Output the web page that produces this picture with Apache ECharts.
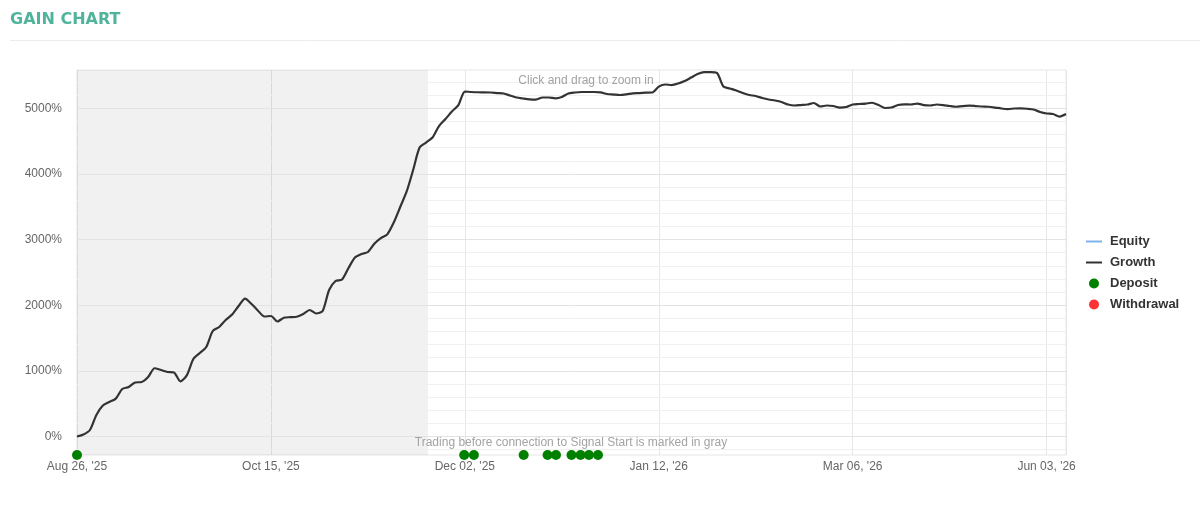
<!DOCTYPE html>
<html><head><meta charset="utf-8">
<script src="https://cdn.jsdelivr.net/npm/echarts@6/dist/echarts.min.js"></script>
<style>html,body{margin:0;padding:0;background:#fff}#c{width:1200px;height:507px}</style>
</head><body><div id="c"></div>
<script>
// ---- data ----
const xTickLabels = ["Aug 26, '25", "Oct 15, '25", "Dec 02, '25", "Jan 12, '26", "Mar 06, '26", "Jun 03, '26"];
const xTickStep = 30;          // data points between two date labels
const xLastIndex = 153;
const signalStartIndex = 54.3; // end of the gray (pre-connection) zone
const yLabelValues = [0, 1000, 2000, 3000, 4000, 5000];
const yGridValues = [-200, 0, 200, 400, 600, 800, 1000, 1200, 1400, 1600, 1800, 2000, 2200, 2400, 2600, 2800, 3000, 3200, 3400, 3600, 3800, 4000, 4200, 4400, 4600, 4800, 5000, 5200, 5400];
const yMin = -282;
const yMax = 5584;

const growthValues = [
  0, 30, 99, 328, 472, 526, 577, 724, 754, 823,
  830, 906, 1040, 1013, 983, 975, 840, 935, 1181, 1272,
  1364, 1607, 1668, 1775, 1857, 1988, 2102, 2019, 1917, 1828,
  1836, 1752, 1810, 1818, 1825, 1866, 1927, 1874, 1912, 2232,
  2369, 2392, 2567, 2727, 2780, 2811, 2937, 3024, 3080, 3260,
  3496, 3733, 4060, 4403, 4479, 4555, 4730, 4837, 4951, 5050,
  5256, 5249, 5245, 5244, 5241, 5233, 5226, 5195, 5165, 5150,
  5137, 5134, 5165, 5165, 5153, 5172, 5226, 5241, 5249, 5249,
  5249, 5244, 5218, 5210, 5203, 5213, 5229, 5233, 5238, 5241,
  5330, 5363, 5355, 5378, 5416, 5469, 5523, 5553, 5553, 5540,
  5332, 5302, 5271, 5233, 5203, 5188, 5157, 5134, 5119, 5096,
  5058, 5043, 5050, 5058, 5081, 5028, 5043, 5035, 5012, 5020,
  5058, 5066, 5073, 5085, 5050, 5005, 5012, 5050, 5061, 5058,
  5073, 5050, 5043, 5058, 5050, 5035, 5024, 5035, 5040, 5035,
  5028, 5024, 5012, 4997, 4989, 4997, 5000, 4994, 4982, 4944,
  4921, 4913, 4875, 4913
];
const equityValues = [];
const depositIndices = [0, 59.9, 61.4, 69.1, 72.8, 74.1, 76.5, 77.9, 79.2, 80.6];
const withdrawalIndices = [];

// ---- chart ----
const chart = echarts.init(document.getElementById('c'), null, {renderer: 'canvas'});
const FONT = 'Arial, "Liberation Sans", sans-serif';
const LINE_ICON = 'path://M0,0 L16,0 L16,2 L0,2 Z';

const gridLines = yGridValues.map(v => ({
  yAxis: v,
  lineStyle: {color: v % 1000 === 0 ? '#e3e3e3' : '#f0f0f0', width: 1, type: 'solid'}
}));

chart.setOption({
  animation: false,
  backgroundColor: '#fff',
  grid: {left: 77, right: 134, top: 70, bottom: 52, show: true, borderColor: '#e6e6e6', borderWidth: 1, backgroundColor: 'transparent'},
  legend: {
    orient: 'vertical', left: 1081, top: 230, itemWidth: 16, itemHeight: 10, itemGap: 8,
    textStyle: {fontFamily: FONT, fontSize: 13, fontWeight: 'bold', color: '#333', padding: [0, 0, 0, 3]},
    data: [
      {name: 'Equity', icon: LINE_ICON},
      {name: 'Growth', icon: LINE_ICON},
      {name: 'Deposit', icon: 'circle'},
      {name: 'Withdrawal', icon: 'circle'}
    ]
  },
  xAxis: {
    type: 'value', min: 0, max: xLastIndex, interval: xTickStep,
    axisLine: {show: true, lineStyle: {color: '#ccd6eb', width: 1}},
    axisTick: {show: false},
    axisLabel: {
      margin: 6, color: '#666', fontFamily: FONT, fontSize: 12,
      formatter: v => (v % xTickStep === 0 ? (xTickLabels[v / xTickStep] || '') : '')
    },
    splitLine: {show: true, lineStyle: {color: '#e6e6e6', width: 1}}
  },
  yAxis: {
    type: 'value', min: yMin, max: yMax,
    axisLine: {show: false}, axisTick: {show: false},
    splitLine: {show: false},
    axisLabel: {customValues: yLabelValues, formatter: v => v + '%', margin: 15, color: '#666', fontFamily: FONT, fontSize: 12}
  },
  series: [
    {
      name: 'Equity', type: 'line', data: equityValues, symbol: 'none',
      lineStyle: {color: '#7cb5ec', width: 2}, itemStyle: {color: '#7cb5ec'}
    },
    {
      name: 'Growth', type: 'line', z: 3,
      data: growthValues.map((v, i) => [i, v]),
      symbol: 'none', smooth: 0.25,
      lineStyle: {color: '#333333', width: 2.2}, itemStyle: {color: '#333333'},
      markArea: {
        silent: true, z: 0,
        itemStyle: {color: 'rgba(0,0,0,0.055)'},
        data: [[{xAxis: 0}, {xAxis: signalStartIndex}]]
      },
      markLine: {
        silent: true, z: 1, symbol: ['none', 'none'], label: {show: false},
        data: gridLines
      }
    },
    {
      name: 'Deposit', type: 'scatter', z: 6, clip: false,
      data: depositIndices.map(x => [x, yMin]),
      symbolSize: 10, itemStyle: {color: '#008000', opacity: 1}
    },
    {
      name: 'Withdrawal', type: 'scatter', z: 6, clip: false,
      data: withdrawalIndices.map(x => [x, yMin]),
      symbolSize: 10, itemStyle: {color: '#ff0000'}
    }
  ],
  graphic: [
    {type: 'text', x: 10, y: 20, z: 10, style: {text: 'GAIN CHART', font: 'bold 16px "DejaVu Sans", Verdana, sans-serif', fill: '#4fb49b', verticalAlign: 'middle'}},
    {type: 'line', z: 10, shape: {x1: 10, y1: 40.5, x2: 1200, y2: 40.5}, style: {stroke: '#ececec', lineWidth: 1}},
    {type: 'text', x: 586, y: 81, z: 10, style: {text: 'Click and drag to zoom in', font: '12px ' + FONT, fill: '#a3a3a3', align: 'center', verticalAlign: 'middle'}},
    {type: 'text', x: 571, y: 443, z: 10, style: {text: 'Trading before connection to Signal Start is marked in gray', font: '12px ' + FONT, fill: '#a3a3a3', align: 'center', verticalAlign: 'middle'}}
  ]
});
</script></body></html>
